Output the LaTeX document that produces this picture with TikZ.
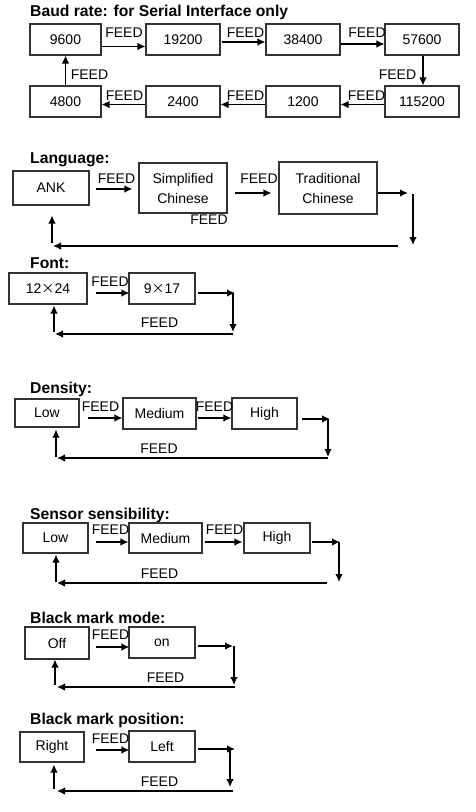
\documentclass[tikz,border=0pt]{standalone}
\usepackage{fontspec}
\setmainfont{Liberation Sans}
\newfontfamily\cjk{Noto Sans CJK SC}
\usepackage{tikz}
\usetikzlibrary{arrows.meta}

\tikzset{
  box/.style={draw=black!80, line width=1.1pt, align=center, inner sep=0pt,
    font=\fontsize{14}{20}\selectfont},
  feed/.style={inner sep=0pt, font=\fontsize{14}{16}\selectfont},
  heading/.style={anchor=base west, inner sep=0pt, font=\bfseries\fontsize{15.7}{18}\selectfont},
  flow/.style={line width=1.3pt, -{Latex[length=8pt,width=7.5pt]}},
}

\newcommand\cross{{\cjk\fontsize{13}{16}\selectfont ×}}

\begin{document}
\begin{tikzpicture}[x=1pt,y=-1pt]

\useasboundingbox (0,0) rectangle (475,812);

% Baud rate
\node(baud)[heading] at (30,16.5) {Baud rate: for Serial Interface only};

\node(r9600)[box, minimum width=71pt, minimum height=31pt] at (65.5,39.5) {9600};
\node(r19200)[box, minimum width=74pt, minimum height=31pt] at (183,39.5) {19200};
\node(r38400)[box, minimum width=74pt, minimum height=31pt] at (303,39.5) {38400};
\node(r57600)[box, minimum width=74pt, minimum height=31pt] at (422,39.5) {57600};
\node(r4800)[box, minimum width=71pt, minimum height=31pt] at (65.5,101.5) {4800};
\node(r2400)[box, minimum width=74pt, minimum height=31pt] at (183,101.5) {2400};
\node(r1200)[box, minimum width=74pt, minimum height=31pt] at (303,101.5) {1200};
\node(r115200)[box, minimum width=74pt, minimum height=31pt] at (422,101.5) {115200};

\node(bf1)[feed] at (124,33) {FEED};
\node(bf2)[feed] at (245.5,33) {FEED};
\node(bf3)[feed] at (367,33) {FEED};
\node(bf4)[feed] at (397.5,75) {FEED};
\node(bf5)[feed] at (366.5,96) {FEED};
\node(bf6)[feed] at (245.5,96) {FEED};
\node(bf7)[feed] at (124.5,96) {FEED};
\node(bf8)[feed] at (89.5,75) {FEED};

\draw[flow] ([yshift=-7pt]r9600.east) -- ([yshift=-7pt]r19200.west);
\draw[flow] ([xshift=1pt,yshift=-2.5pt]r19200.east) -- ([yshift=-2.5pt]r38400.west);
\draw[flow] ([yshift=-4.5pt]r38400.east) -- ([yshift=-4.5pt]r57600.west);
\draw[flow] ([xshift=1pt]r57600.south) -- ([xshift=1pt]r115200.north);
\draw[flow] ([yshift=-3pt]r115200.west) -- ([yshift=-3pt]r1200.east);
\draw[flow] ([yshift=-3pt]r1200.west) -- ([yshift=-3pt]r2400.east);
\draw[flow] ([yshift=-3pt]r2400.west) -- ([yshift=-3pt]r4800.east);
\draw[flow] (r4800.north) -- (r9600.south);

% Language
\node(lang)[heading] at (30,163) {Language:};

\node(ank)[box, minimum width=76pt, minimum height=34pt] at (51,188) {ANK};
\node(simp)[box, minimum width=88pt, minimum height=50pt] at (183,188) {Simplified\\Chinese};
\node(trad)[box, minimum width=98pt, minimum height=52pt] at (328,188) {Traditional\\Chinese};

\node(lf1)[feed] at (116.5,179) {FEED};
\node(lf2)[feed] at (259,179) {FEED};
\node(lf3)[feed] at (209,220) {FEED};

\coordinate(lo) at (408,193);
\coordinate(ld1) at (413,194);
\coordinate(ld2) at (413,245);
\coordinate(lr1) at (398,246);
\coordinate(lr2) at (53,246);
\coordinate(lu) at (52,243);

\draw[flow] ([xshift=6pt,yshift=-1pt]ank.east) -- ([xshift=-6pt,yshift=-1pt]simp.west);
\draw[flow] ([xshift=7pt,yshift=-5pt]simp.east) -- ([xshift=-7pt,yshift=-5pt]trad.west);
\draw[flow] ([yshift=-5pt]trad.east) -- (lo);
\draw[flow] (ld1) -- (ld2);
\draw[flow] (lr1) -- (lr2);
\draw[flow] (lu) -- ([xshift=1pt,yshift=-10pt]ank.south);

% Font
\node(font)[heading] at (30,268) {Font:};

\node(fa)[box, minimum width=78pt, minimum height=31pt] at (48,288.5) {12\cross24};
\node(fb)[box, minimum width=66pt, minimum height=31pt] at (162,288.5) {9\cross17};

\node(ff1)[feed] at (110,282) {FEED};
\node(ff2)[feed] at (159.5,323) {FEED};

\coordinate(fo) at (235,293);
\coordinate(fd1) at (233,293);
\coordinate(fd2) at (233,332);
\coordinate(fr1) at (233,334);
\coordinate(fr2) at (55,334);
\coordinate(fu) at (54,332);

\draw[flow] ([xshift=8pt,yshift=-4.5pt]fa.east) -- ([xshift=1pt,yshift=-4.5pt]fb.west);
\draw[flow] ([xshift=2pt,yshift=-4.5pt]fb.east) -- (fo);
\draw[flow] (fd1) -- (fd2);
\draw[flow] (fr1) -- (fr2);
\draw[flow] (fu) -- ([xshift=6pt,yshift=-1pt]fa.south);

% Density
\node(dens)[heading] at (30,393) {Density:};

\node(dl)[box, minimum width=64pt, minimum height=28pt] at (47,413) {Low};
\node(dm)[box, minimum width=73pt, minimum height=31pt] at (159.5,413.5) {Medium};
\node(dh)[box, minimum width=65pt, minimum height=31pt] at (264.5,413.5) {High};

\node(df1)[feed] at (100.5,407) {FEED};
\node(df2)[feed] at (214.5,407) {FEED};
\node(df3)[feed] at (159,449) {FEED};

\coordinate(do) at (330,419);
\coordinate(dd1) at (328,419);
\coordinate(dd2) at (328,457);
\coordinate(dr1) at (328,458);
\coordinate(dr2) at (57,458);
\coordinate(du) at (56,457);

\draw[flow] ([xshift=8pt,yshift=-5pt]dl.east) -- ([yshift=-4.5pt]dm.west);
\draw[flow] ([xshift=1pt,yshift=-4.5pt]dm.east) -- ([yshift=-4.5pt]dh.west);
\draw[flow] ([xshift=4pt,yshift=-5.5pt]dh.east) -- (do);
\draw[flow] (dd1) -- (dd2);
\draw[flow] (dr1) -- (dr2);
\draw[flow] (du) -- ([xshift=9pt,yshift=-2pt]dl.south);

% Sensor sensibility
\node(sens)[heading] at (30,519.5) {Sensor sensibility:};

\node(sl)[box, minimum width=65pt, minimum height=30pt] at (55.5,538) {Low};
\node(sm)[box, minimum width=73pt, minimum height=30pt] at (165.5,538) {Medium};
\node(sh)[box, minimum width=66pt, minimum height=30pt] at (277,538) {High};

\node(sf1)[feed] at (110.5,530) {FEED};
\node(sf2)[feed] at (224.5,530) {FEED};
\node(sf3)[feed] at (159.5,574) {FEED};

\coordinate(so) at (340,542);
\coordinate(sd1) at (339,542);
\coordinate(sd2) at (339,582);
\coordinate(sr1) at (327,583);
\coordinate(sr2) at (57,583);
\coordinate(su) at (56,582);

\draw[flow] ([xshift=7pt,yshift=-4pt]sl.east) -- ([yshift=-4pt]sm.west);
\draw[flow] ([xshift=2pt,yshift=-4pt]sm.east) -- ([xshift=-1pt,yshift=-4pt]sh.west);
\draw[flow] ([xshift=1pt,yshift=-4pt]sh.east) -- (so);
\draw[flow] (sd1) -- (sd2);
\draw[flow] (sr1) -- (sr2);
\draw[flow] (su) -- ([xshift=0.5pt,yshift=-1pt]sl.south);

% Black mark mode
\node(mode)[heading] at (30,623) {Black mark mode:};

\node(ml)[box, minimum width=64pt, minimum height=32pt] at (57,643) {Off};
\node(mr)[box, minimum width=66pt, minimum height=31pt] at (162,642.5) {on};

\node(mf1)[feed] at (110.5,635) {FEED};
\node(mf2)[feed] at (165.5,678) {FEED};

\coordinate(mo) at (233,646);
\coordinate(md1) at (234,646);
\coordinate(md2) at (234,685);
\coordinate(mr1) at (235,687);
\coordinate(mr2) at (57,687);
\coordinate(mu) at (55,685);

\draw[flow] ([xshift=6pt,yshift=-4pt]ml.east) -- ([xshift=1pt,yshift=-4.5pt]mr.west);
\draw[flow] ([xshift=2pt,yshift=-3.5pt]mr.east) -- (mo);
\draw[flow] (md1) -- (md2);
\draw[flow] (mr1) -- (mr2);
\draw[flow] (mu) -- ([xshift=-2pt]ml.south);

% Black mark position
\node(posn)[heading] at (30,724.5) {Black mark position:};

\node(pr)[box, minimum width=64pt, minimum height=30pt] at (52,747) {Right};
\node(pl)[box, minimum width=66pt, minimum height=31pt] at (162,746.5) {Left};

\node(pf1)[feed] at (110.5,739) {FEED};
\node(pf2)[feed] at (159.5,782) {FEED};

\coordinate(po) at (235,749);
\coordinate(pd1) at (230,749);
\coordinate(pd2) at (230,787);
\coordinate(pr1) at (233,791);
\coordinate(pr2) at (57,791);
\coordinate(pu) at (54,789);

\draw[flow] ([xshift=11pt,yshift=-3pt]pr.east) -- ([xshift=1pt,yshift=-3.5pt]pl.west);
\draw[flow] ([xshift=2pt,yshift=-2.5pt]pl.east) -- (po);
\draw[flow] (pd1) -- (pd2);
\draw[flow] (pr1) -- (pr2);
\draw[flow] (pu) -- ([xshift=2pt,yshift=-2pt]pr.south);

\end{tikzpicture}
\end{document}
